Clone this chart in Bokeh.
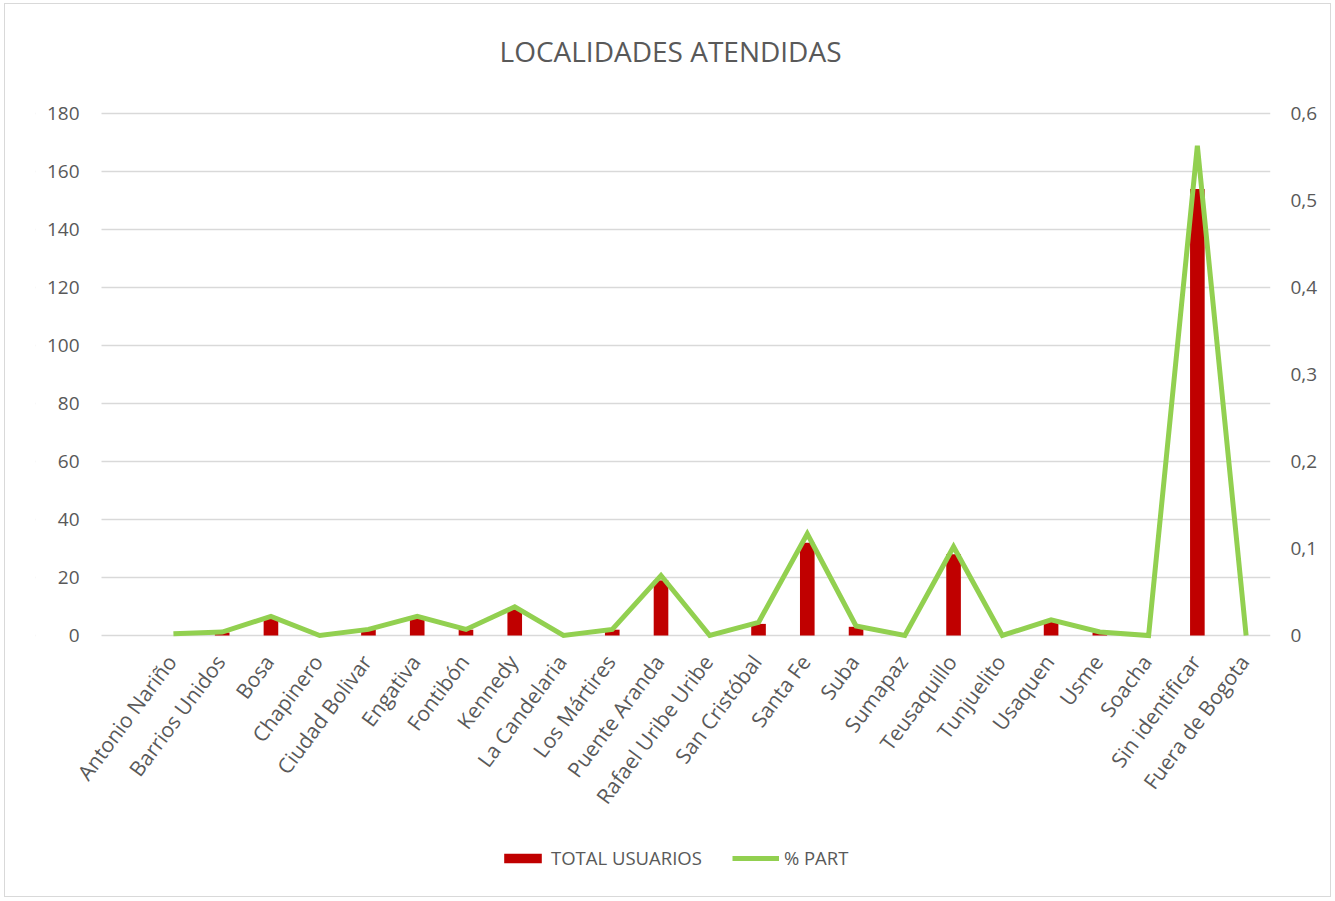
from bokeh.plotting import figure
from bokeh.models import (Range1d, LinearAxis, FixedTicker, CustomJSTickFormatter,
                          Legend, LegendItem, ColumnDataSource, Label, BoxAnnotation)
from bokeh.core.properties import value
from bokeh.embed import file_html
from bokeh.resources import INLINE

# ---- data ----
categories = ["Antonio Nariño", "Barrios Unidos", "Bosa", "Chapinero", "Ciudad Bolivar",
              "Engativa", "Fontibón", "Kennedy", "La Candelaria", "Los Mártires",
              "Puente Aranda", "Rafael Uribe Uribe", "San Cristóbal", "Santa Fe", "Suba",
              "Sumapaz", "Teusaquillo", "Tunjuelito", "Usaquen", "Usme", "Soacha",
              "Sin identificar", "Fuera de Bogota"]
total_usuarios = [0, 1, 6, 0, 2, 6, 2, 9, 0, 2, 19, 0, 4, 32, 3, 0, 28, 0, 5, 1, 0, 154, 0]
pct_part = [0.002, 0.004, 0.022, 0.0, 0.007, 0.022, 0.007, 0.033, 0.0, 0.007, 0.069, 0.0,
            0.015, 0.117, 0.011, 0.0, 0.102, 0.0, 0.018, 0.004, 0.0, 0.563, 0.0]
left_ticks = [0, 20, 40, 60, 80, 100, 120, 140, 160, 180]
right_ticks = [0, 0.1, 0.2, 0.3, 0.4, 0.5, 0.6]
LEFT_MAX, RIGHT_MAX = 180, 0.6

FONT = "Open Sans"
GREY = "#595959"

# ---- layout constants (canvas pixels) ----
W, H = 1327, 894
FRAME_L = 30                         # frame left (room for the first rotated label)
GRID_L, FRAME_R = 96, 1265           # plot-area span (gridlines) in canvas x
FRAME_B = 890                        # frame bottom (canvas y from top)
PLOT_TOP, ZERO_Y = 109, 631          # canvas y of 180 gridline and of 0
ppu = (ZERO_Y - PLOT_TOP) / LEFT_MAX
y_end = LEFT_MAX + PLOT_TOP / ppu
y_start = -(FRAME_B - ZERO_Y) / ppu
band = (FRAME_R - GRID_L) / (len(categories) + 0.975)
x_grid_start = -0.5 - 0.975
x_start = x_grid_start - (GRID_L - FRAME_L) / band
x_end = len(categories) - 0.5

idx = list(range(len(categories)))
src = ColumnDataSource(dict(x=idx, total=total_usuarios, pct=pct_part,
                            name=categories, base=[0] * len(categories)))

p = figure(width=W, height=H, output_backend="svg", toolbar_location=None,
           x_range=Range1d(x_start, x_end), y_range=Range1d(y_start, y_end),
           min_border_left=FRAME_L, min_border_right=W - FRAME_R,
           min_border_top=0, min_border_bottom=H - FRAME_B,
           styles={"border": "1px solid #d9d9d9", "margin-left": "4px", "margin-top": "3px"})
p.extra_y_ranges = {"pct": Range1d(y_start * RIGHT_MAX / LEFT_MAX, y_end * RIGHT_MAX / LEFT_MAX)}

p.outline_line_color = None
p.background_fill_color = "white"
p.border_fill_color = "white"
p.xgrid.grid_line_color = None
p.ygrid.grid_line_color = "#d9d9d9"
p.ygrid.grid_line_width = 1.5
p.yaxis.ticker = FixedTicker(ticks=left_ticks)
p.xaxis.visible = False

# keep the gridlines to the plot area only (mask the strip left of it)
p.add_layout(BoxAnnotation(right=x_grid_start, fill_color="white", fill_alpha=1,
                           line_color=None, level="underlay"))

bars = p.vbar(x="x", top="total", width=0.3, bottom=0, source=src,
              fill_color="#C00000", line_color=None)
line = p.line(x="x", y="pct", source=src, y_range_name="pct",
              line_color="#92D050", line_width=5, line_join="miter")

# category labels (rotated), anchored at each category below the zero line
p.text(x="x", y="base", text="name", source=src, angle=0.93, text_align="right",
       text_baseline="middle", y_offset=22, x_offset=-2,
       text_font=value(FONT), text_font_size="21px", text_color=GREY)

# title
title_x = x_start + (665 - FRAME_L) / band
title_y = LEFT_MAX + (PLOT_TOP - 46) / ppu
p.add_layout(Label(x=title_x, y=title_y, text="LOCALIDADES ATENDIDAS", text_align="center",
                   text_baseline="alphabetic", text_font=FONT, text_font_size="28px",
                   text_color=GREY))

# left axis (labels sit just left of the plot area)
ya = p.yaxis[0]
ya.axis_line_color = None
ya.major_tick_line_color = None
ya.minor_tick_line_color = None
ya.major_label_text_font = FONT
ya.major_label_text_font_size = "19px"
ya.major_label_text_color = GREY
ya.major_label_standoff = -(GRID_L - 16 - FRAME_L)

# right axis
ra = LinearAxis(y_range_name="pct", ticker=FixedTicker(ticks=right_ticks),
                formatter=CustomJSTickFormatter(code="""
                    return tick == 0 ? "0" : tick.toFixed(1).replace(".", ",");
                """))
ra.axis_line_color = None
ra.major_tick_line_color = None
ra.minor_tick_line_color = None
ra.major_label_text_font = FONT
ra.major_label_text_font_size = "19px"
ra.major_label_text_color = GREY
ra.major_label_standoff = 14
p.add_layout(ra, "right")

legend = Legend(items=[LegendItem(label="TOTAL USUARIOS", renderers=[bars]),
                       LegendItem(label="% PART", renderers=[line])],
                orientation="horizontal", location=(494 - FRAME_L, 24),
                glyph_width=47, glyph_height=12, label_standoff=5, spacing=30,
                padding=0, margin=0, border_line_color=None, background_fill_alpha=0,
                label_text_font=FONT, label_text_font_size="18.5px", label_text_color=GREY)
p.add_layout(legend, "center")

open("out.html", "w").write(file_html(p, INLINE))
